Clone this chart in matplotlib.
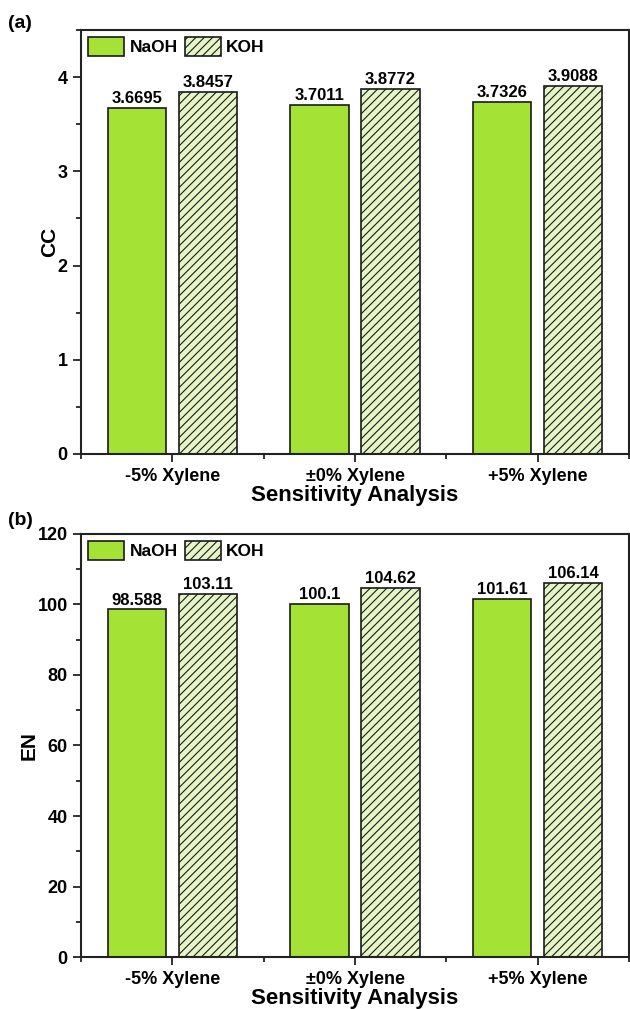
import numpy as np
import matplotlib
matplotlib.use("Agg")
import matplotlib.pyplot as plt
from matplotlib.ticker import MultipleLocator, FixedLocator

plt.rcParams['font.family'] = ['Liberation Sans', 'DejaVu Sans']
plt.rcParams['font.weight'] = 'bold'
plt.rcParams['hatch.color'] = '#4a4a4a'
plt.rcParams['hatch.linewidth'] = 0.8

categories = ['-5% Xylene', '±0% Xylene', '+5% Xylene']
cc_naoh = [3.6695, 3.7011, 3.7326]
cc_koh = [3.8457, 3.8772, 3.9088]
en_naoh = [98.588, 100.1, 101.61]
en_koh = [103.11, 104.62, 106.14]
cc_labels_naoh = ['3.6695', '3.7011', '3.7326']
cc_labels_koh = ['3.8457', '3.8772', '3.9088']
en_labels_naoh = ['98.588', '100.1', '101.61']
en_labels_koh = ['103.11', '104.62', '106.14']

NAOH_COLOR = '#a5e236'
KOH_COLOR = '#e5f5c6'
EDGE = '#1a1a1a'

fig = plt.figure(figsize=(6.3, 10.09), dpi=100)
ax_a = fig.add_axes([0.1286, 0.5501, 0.8698, 0.4202])
ax_b = fig.add_axes([0.1286, 0.0515, 0.8698, 0.4193])

x = np.arange(1, len(categories) + 1)
width = 0.32
offset = 0.194


def draw_panel(ax, naoh, koh, lab_n, lab_k, ylim, major, minor, ylabel, pad):
    b1 = ax.bar(x - offset, naoh, width, color=NAOH_COLOR, edgecolor=EDGE,
                linewidth=1.2, label='NaOH', zorder=2)
    b2 = ax.bar(x + offset, koh, width, color=KOH_COLOR, edgecolor=EDGE,
                linewidth=1.2, hatch='////', label='KOH', zorder=2)
    for rect, t in zip(b1, lab_n):
        ax.text(rect.get_x() + rect.get_width() / 2, rect.get_height() + pad, t,
                ha='center', va='bottom', fontsize=12, fontweight='bold')
    for rect, t in zip(b2, lab_k):
        ax.text(rect.get_x() + rect.get_width() / 2, rect.get_height() + pad, t,
                ha='center', va='bottom', fontsize=12, fontweight='bold')
    ax.set_xlim(0.5, 3.5)
    ax.set_ylim(*ylim)
    ax.yaxis.set_major_locator(MultipleLocator(major))
    ax.yaxis.set_minor_locator(MultipleLocator(minor))
    ax.set_xticks(x)
    ax.set_xticklabels(categories, fontsize=13, fontweight='bold')
    ax.xaxis.set_minor_locator(FixedLocator([0.5, 1.5, 2.5, 3.5]))
    ax.tick_params(axis='both', which='major', direction='out', length=6,
                   width=1.3, color='#222222', labelsize=13)
    ax.tick_params(axis='both', which='minor', direction='out', length=3.5,
                   width=1.3, color='#222222')
    ax.tick_params(axis='x', which='major', pad=4)
    for lbl in ax.get_yticklabels():
        lbl.set_fontweight('bold')
    for sp in ax.spines.values():
        sp.set_linewidth(1.5)
        sp.set_color('#222222')
    ax.set_xlabel('Sensitivity Analysis', fontsize=16, fontweight='bold',
                  labelpad=0)
    ax.set_ylabel(ylabel, fontsize=15, fontweight='bold', labelpad=-1)
    leg = ax.legend(loc='upper left', ncol=2, frameon=False, fontsize=12.5,
                    handlelength=2.1, handleheight=1.35, columnspacing=0.4,
                    handletextpad=0.3, borderaxespad=0.15, borderpad=0.25)
    for t in leg.get_texts():
        t.set_fontweight('bold')


draw_panel(ax_a, cc_naoh, cc_koh, cc_labels_naoh, cc_labels_koh,
           (0, 4.5), 1, 0.5, 'CC', 0.02)
draw_panel(ax_b, en_naoh, en_koh, en_labels_naoh, en_labels_koh,
           (0, 120), 20, 10, 'EN', 0.5)

fig.text(0.012, 0.985, '(a)', fontsize=14, fontweight='bold', va='top')
fig.text(0.012, 0.493, '(b)', fontsize=14, fontweight='bold', va='top')

fig.savefig('out.png', dpi=100)
